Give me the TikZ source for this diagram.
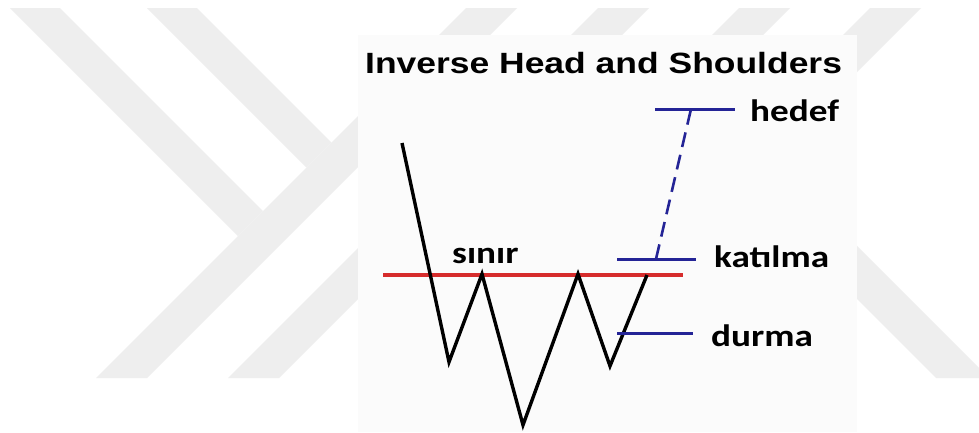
\documentclass[tikz,border=0pt]{standalone}
\usepackage{fontspec}
\newfontfamily\titlefont[FakeStretch=1.21]{Liberation Sans}
\newfontfamily\labelfont[FakeStretch=1.2]{Carlito}
\usetikzlibrary{calc}
\definecolor{wmgray}{RGB}{238,238,238}
\definecolor{panel}{RGB}{251,251,251}
\definecolor{neck}{RGB}{214,44,44}
\definecolor{lvl}{RGB}{36,36,150}

\begin{document}
\begin{tikzpicture}[x=1pt,y=-1pt,
  wmark/.style={fill=wmgray},
  price/.style={draw=black,line width=3.4pt},
  level/.style={draw=lvl,line width=3pt},
  target/.style={draw=lvl,line width=2.6pt,dash pattern=on 15pt off 8pt},
  title/.style={anchor=base west,inner sep=0pt,font=\titlefont\bfseries\fontsize{29.3}{30}\selectfont},
  lbl/.style={anchor=base west,inner sep=0pt,font=\labelfont\bfseries\fontsize{31}{31}\selectfont}]
  \useasboundingbox (0,0) rectangle (979,432);
  \clip (0,0) rectangle (979,432);
  \fill[white] (0,0) rectangle (979,432);
  % watermark stripes behind the chart
  \foreach \a in {474,606,747,878}{
    \fill[wmark] (\a-8,8) -- (\a+43,8) -- (\a-327,378) -- (\a-378,378) -- cycle; }
  \fill[wmark] (10,8) -- (60,8) -- (263,211) -- (238,236) -- cycle;
  \fill[wmark] (147,8) -- (197,8) -- (331.5,142.5) -- (306.5,167.5) -- cycle;
  \fill[wmark] (690,132) -- (743,132) -- (989,378) -- (936,378) -- cycle;
  \fill[panel] (358,35) rectangle (857,432);
  \node[title](title) at (365,73){Inverse Head and Shoulders};
  % price path
  \foreach \i/\x/\y in {0/402/143,1/449/362,2/482/274,3/523/425,4/578/274,5/610/366,6/647/275}
    \coordinate (p\i) at (\x,\y);
  \coordinate (n0) at (383,275); \coordinate (n1) at (683,275);
  \draw[neck,line width=4.2pt] (n0)--(n1);
  \draw[price] (p0) \foreach \i in {1,...,6}{ -- (p\i)};
  \node[lbl](sinir) at (452,263){sınır};
  % levels
  \node[lbl](hedef) at (750,121){hedef};
  \node[lbl](katilma) at (714,267){katılma};
  \node[lbl](durma) at (711,346){durma};
  \coordinate (h0) at (655,109); \coordinate (h1) at (735,109);
  \coordinate (k0) at (617,259); \coordinate (k1) at (696,259);
  \coordinate (d0) at (617,333); \coordinate (d1) at (693,333);
  \draw[level] (h0)--(h1); \draw[level] (k0)--(k1); \draw[level] (d0)--(d1);
  \draw[target] ($(k0)!0.5!(k1)+(-0.5,0)$)--($(h0)!0.45!(h1)$);
\end{tikzpicture}
\end{document}
